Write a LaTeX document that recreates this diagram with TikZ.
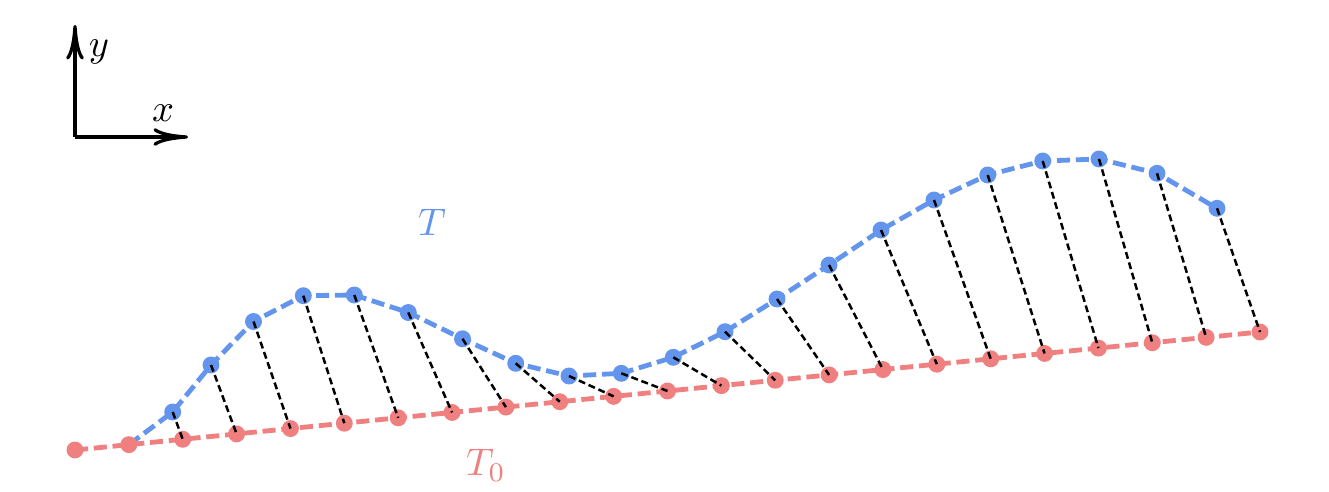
\documentclass[tikz,border=0pt]{standalone}
\usetikzlibrary{arrows.meta}
\definecolor{tblue}{RGB}{100,149,237}
\definecolor{tred}{RGB}{240,128,128}
\tikzset{
  rline/.style={tred, line width=1.25pt, dash pattern=on 3.4pt off 1.5pt},
  bline/.style={tblue, line width=1.25pt, dash pattern=on 3.4pt off 1.5pt},
  rdot/.style={circle, fill=tred, inner sep=0pt, minimum size=4.4pt},
  bdot/.style={circle, fill=tblue, inner sep=0pt, minimum size=4.4pt},
  link/.style={black, line width=0.65pt, dash pattern=on 1.8pt off 1pt},
  axis/.style={black, line width=0.85pt, -{Computer Modern Rightarrow[length=9pt,width=4.6pt]}},
}
\begin{document}
\begin{tikzpicture}[x=0.26pt,y=-0.26pt]
\useasboundingbox (0,0) rectangle (1329,491);
% axes
\coordinate (o) at (75,137);
\coordinate (ytip) at (75,25);
\coordinate (xtip) at (188,137);
\draw[axis] (o) -- (ytip);
\draw[axis] (o) -- (xtip);
\node (ylab) at (99,52) {$y$};
\node (xlab) at (163,113) {$x$};
% red points
\foreach \i in {1,...,23} {
  \coordinate (r\i) at ({75+(\i-1)*53.8636},{450-(\i-1)*5.3636});
}
% blue points
\foreach \i/\x/\y in {1/172.7/412, 2/211/365, 3/253.5/321.5, 4/303.3/295.7, 5/354.3/295,
  6/408.3/312.5, 7/462.5/338.8, 8/515.7/363.3, 9/569/376, 10/621.3/373.3,
  11/673.3/357.3, 12/725/331.7, 13/777/299, 14/829/265, 15/881/230,
  16/934/200, 17/987.7/175, 18/1042.7/161, 19/1099/159, 20/1157/173.3, 21/1217/208.3} {
  \coordinate (b\i) at (\x,\y);
}
\draw[rline] (r1) -- (r23);
\draw[bline] (r2) \foreach \i in {1,...,21} { -- (b\i) };
\foreach \i in {1,...,23} { \node[rdot] (rd\i) at (r\i) {}; }
\foreach \i in {1,...,21} { \node[bdot] (bd\i) at (b\i) {}; }
\foreach \i in {1,...,21} {
  \pgfmathtruncatemacro\j{\i+2}
  \draw[link] (b\i) -- (r\j);
}
\node[text=tblue] (tlab) at (432,222) {$T$};
\node[text=tred] (t0lab) at (486,465) {$T_0$};
\end{tikzpicture}
\end{document}
